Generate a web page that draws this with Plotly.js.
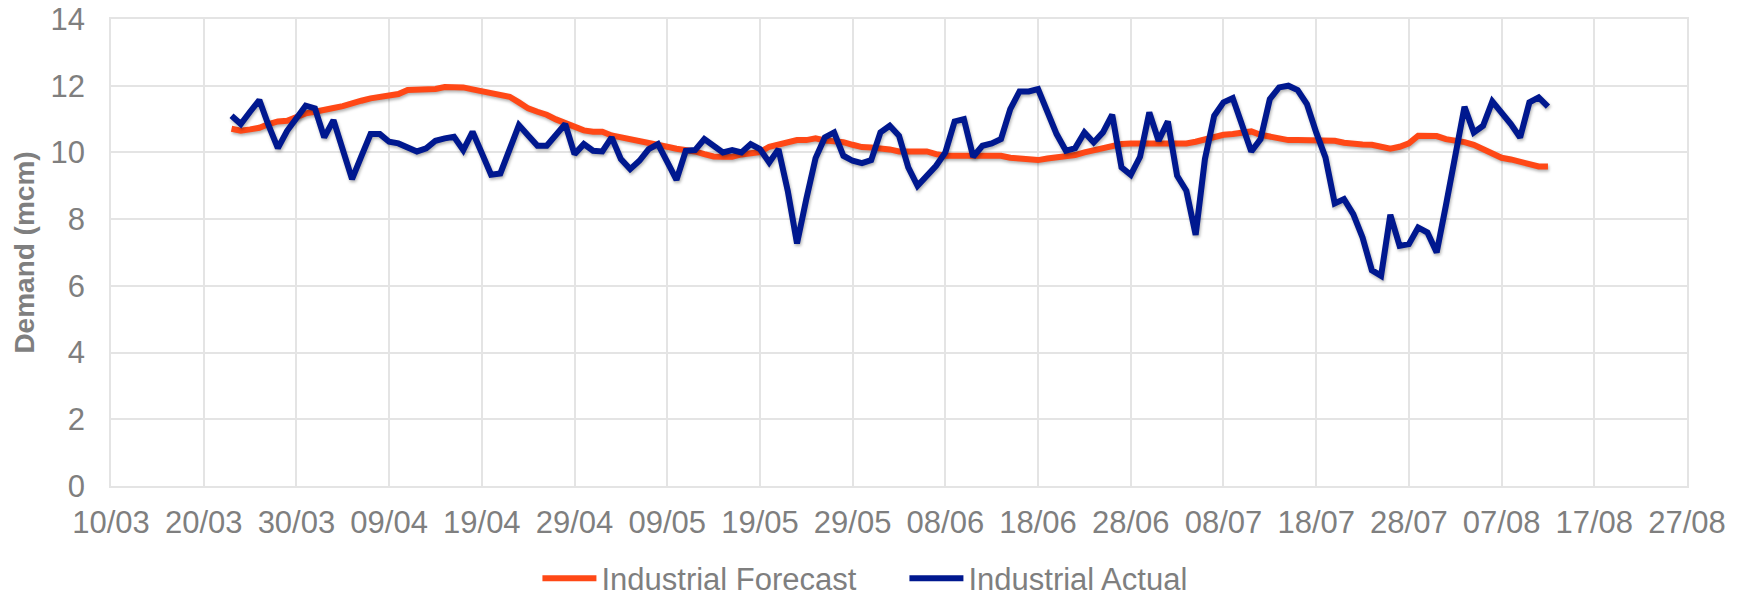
<!DOCTYPE html>
<html>
<head>
<meta charset="utf-8">
<script src="https://cdn.plot.ly/plotly-3.0.1.min.js"></script>
<style>
  html, body { margin: 0; padding: 0; background: #ffffff; }
  #chart { width: 1746px; height: 599px; }
  .scatterlayer .js-line { filter: drop-shadow(1px 2px 1.5px rgba(0,0,0,0.30)); }
</style>
</head>
<body>
<div id="chart"></div>
<script>
// Daily dates (23/03 – 12/08)
const dates = [
  "2020-03-23","2020-03-24","2020-03-25","2020-03-26","2020-03-27","2020-03-28","2020-03-29","2020-03-30","2020-03-31",
  "2020-04-01","2020-04-02","2020-04-03","2020-04-04","2020-04-05","2020-04-06","2020-04-07","2020-04-08","2020-04-09","2020-04-10",
  "2020-04-11","2020-04-12","2020-04-13","2020-04-14","2020-04-15","2020-04-16","2020-04-17","2020-04-18","2020-04-19","2020-04-20",
  "2020-04-21","2020-04-22","2020-04-23","2020-04-24","2020-04-25","2020-04-26","2020-04-27","2020-04-28","2020-04-29","2020-04-30",
  "2020-05-01","2020-05-02","2020-05-03","2020-05-04","2020-05-05","2020-05-06","2020-05-07","2020-05-08","2020-05-09","2020-05-10",
  "2020-05-11","2020-05-12","2020-05-13","2020-05-14","2020-05-15","2020-05-16","2020-05-17","2020-05-18","2020-05-19","2020-05-20",
  "2020-05-21","2020-05-22","2020-05-23","2020-05-24","2020-05-25","2020-05-26","2020-05-27","2020-05-28","2020-05-29","2020-05-30","2020-05-31",
  "2020-06-01","2020-06-02","2020-06-03","2020-06-04","2020-06-05","2020-06-06","2020-06-07","2020-06-08","2020-06-09","2020-06-10",
  "2020-06-11","2020-06-12","2020-06-13","2020-06-14","2020-06-15","2020-06-16","2020-06-17","2020-06-18","2020-06-19","2020-06-20",
  "2020-06-21","2020-06-22","2020-06-23","2020-06-24","2020-06-25","2020-06-26","2020-06-27","2020-06-28","2020-06-29","2020-06-30",
  "2020-07-01","2020-07-02","2020-07-03","2020-07-04","2020-07-05","2020-07-06","2020-07-07","2020-07-08","2020-07-09","2020-07-10",
  "2020-07-11","2020-07-12","2020-07-13","2020-07-14","2020-07-15","2020-07-16","2020-07-17","2020-07-18","2020-07-19","2020-07-20",
  "2020-07-21","2020-07-22","2020-07-23","2020-07-24","2020-07-25","2020-07-26","2020-07-27","2020-07-28","2020-07-29","2020-07-30","2020-07-31",
  "2020-08-01","2020-08-02","2020-08-03","2020-08-04","2020-08-05","2020-08-06","2020-08-07","2020-08-08","2020-08-09","2020-08-10",
  "2020-08-11","2020-08-12"
];

const industrialForecast = [
  10.71,10.65,10.69,10.74,10.85,10.93,10.95,11.05,11.17,
  11.22,11.26,11.33,11.39,11.45,11.55,11.62,11.67,11.68,11.75,
  11.87,11.88,11.89,11.90,11.96,11.97,11.95,11.89,11.83,11.77,
  11.72,11.67,11.50,11.32,11.22,11.13,10.99,10.87,10.74,10.66,
  10.62,10.62,10.51,10.46,10.41,10.35,10.28,10.23,10.17,10.11,
  10.08,10.03,9.95,9.88,9.87,9.87,9.94,9.98,10.01,10.17,
  10.25,10.31,10.37,10.37,10.42,10.36,10.34,10.31,10.23,10.16,10.15,
  10.13,10.09,10.03,10.02,10.02,10.03,9.95,9.90,9.90,9.90,
  9.90,9.90,9.90,9.90,9.84,9.82,9.78,9.77,9.82,9.85,
  9.86,9.92,10.00,10.07,10.14,10.20,10.25,10.27,10.27,10.28,
  10.28,10.25,10.25,10.27,10.32,10.39,10.46,10.53,10.55,10.60,
  10.63,10.53,10.48,10.42,10.37,10.37,10.37,10.37,10.36,10.35,
  10.29,10.25,10.24,10.23,10.17,10.11,10.17,10.27,10.50,10.50,10.49,
  10.40,10.37,10.31,10.23,10.11,9.99,9.84,9.79,9.73,9.65,
  9.58,9.58
];

const industrialActual = [
  11.10,10.85,11.22,11.57,10.81,10.13,10.65,11.03,11.40,
  11.32,10.45,10.97,10.05,9.20,9.88,10.55,10.55,10.32,10.27,
  10.15,10.03,10.12,10.35,10.42,10.47,10.07,10.62,9.98,9.33,
  9.37,10.10,10.82,10.51,10.20,10.20,10.53,10.85,9.95,10.25,
  10.05,10.03,10.45,9.80,9.50,9.75,10.10,10.25,9.72,9.18,
  10.05,10.07,10.40,10.20,10.00,10.07,10.00,10.25,10.10,9.70,
  10.10,8.85,7.27,8.60,9.83,10.45,10.60,9.90,9.75,9.68,9.77,
  10.60,10.80,10.50,9.55,9.00,9.30,9.60,10.00,10.93,11.00,
  9.87,10.20,10.27,10.40,11.30,11.83,11.83,11.90,11.25,10.55,
  10.05,10.13,10.60,10.30,10.60,11.13,9.55,9.33,9.87,11.20,
  10.35,10.93,9.30,8.85,7.53,9.80,11.10,11.50,11.63,10.80,
  10.03,10.40,11.60,11.95,12.00,11.87,11.45,10.60,9.85,8.47,
  8.60,8.15,7.45,6.47,6.30,8.13,7.20,7.25,7.75,7.60,7.00,
  8.42,9.90,11.37,10.60,10.80,11.53,11.22,10.85,10.45,11.50,
  11.65,11.37
];

const seriesNames = ["Industrial Forecast", "Industrial Actual"];
const seriesColors = ["#FF4816", "#00188F"];
const xRange = ["2020-03-10", "2020-08-27"];
const yRange = [0, 14];
const yTitle = "Demand (mcm)";

const gray = "#7F7F7F";
const gridColor = "#E4E4E4";
const fontFamily = "Liberation Sans, Arial, sans-serif";

const traces = [
  {
    x: dates, y: industrialForecast, name: seriesNames[0], type: "scatter", mode: "lines",
    line: { color: seriesColors[0], width: 6, shape: "linear" }
  },
  {
    x: dates, y: industrialActual, name: seriesNames[1], type: "scatter", mode: "lines",
    line: { color: seriesColors[1], width: 6, shape: "linear" }
  }
];

const layout = {
  width: 1746, height: 599,
  paper_bgcolor: "#ffffff", plot_bgcolor: "#ffffff",
  margin: { l: 111, r: 59, t: 19, b: 113, pad: 0 },
  font: { family: fontFamily, color: gray },
  showlegend: true,
  legend: {
    orientation: "h",
    xref: "container", yref: "container",
    x: 0.518, xanchor: "center",
    y: 0.034, yanchor: "middle",
    itemwidth: 54,
    entrywidth: 298,
    font: { family: fontFamily, size: 31, color: gray },
    bgcolor: "rgba(0,0,0,0)"
  },
  xaxis: {
    type: "date",
    range: xRange,
    tick0: xRange[0],
    dtick: 10 * 86400000,
    tickformat: "%d/%m",
    showgrid: true, gridcolor: gridColor, gridwidth: 1.5,
    showline: true, linecolor: gridColor, linewidth: 1.5, mirror: true,
    zeroline: false,
    ticks: "",
    ticklabelstandoff: 8,
    tickfont: { family: fontFamily, size: 31, color: gray },
    automargin: false,
    fixedrange: true
  },
  yaxis: {
    range: yRange,
    dtick: 2,
    tick0: 0,
    showgrid: true, gridcolor: gridColor, gridwidth: 1.5,
    showline: true, linecolor: gridColor, linewidth: 1.5, mirror: true,
    zeroline: false,
    ticks: "",
    ticklabelstandoff: 18,
    tickfont: { family: fontFamily, size: 31, color: gray },
    title: {
      text: yTitle,
      font: { family: fontFamily, size: 28, color: gray, weight: "bold" },
      standoff: 8
    },
    automargin: false,
    fixedrange: true
  }
};

Plotly.newPlot("chart", traces, layout, { displayModeBar: false, responsive: false });
</script>
</body>
</html>
